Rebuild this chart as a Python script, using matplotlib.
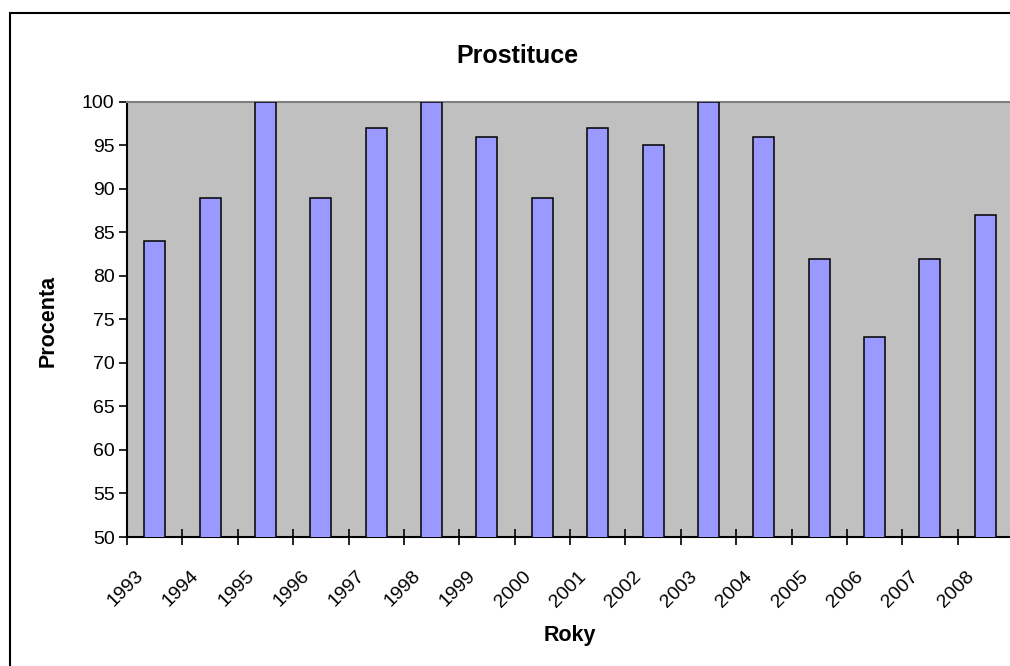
import numpy as np
import matplotlib
matplotlib.use("Agg")
import matplotlib.pyplot as plt
from matplotlib.patches import Rectangle
from matplotlib.transforms import ScaledTranslation

# data
years = ["1993", "1994", "1995", "1996", "1997", "1998", "1999", "2000",
         "2001", "2002", "2003", "2004", "2005", "2006", "2007", "2008"]
values = [84, 89, 100, 89, 97, 100, 96, 89, 97, 95, 100, 96, 82, 73, 82, 87]
yticks = [50, 55, 60, 65, 70, 75, 80, 85, 90, 95, 100]

plt.rcParams['font.family'] = ['Liberation Sans', 'DejaVu Sans']

W, H = 1010, 666
fig = plt.figure(figsize=(W / 100, H / 100), dpi=100)

# chart frame (left + top border visible, the rest is cut off)
frame = Rectangle((10 / W, -0.2), 1.2, 1.2 - 13 / H, transform=fig.transFigure,
                  fill=False, edgecolor='black', linewidth=1.5)
fig.patches.append(frame)

# plot area, runs a bit past the right edge like the original screenshot
ax = fig.add_axes([127 / W, 1 - 537 / H, 886 / W, 435 / H])
ax.set_facecolor('#C0C0C0')

x = np.arange(len(years))
ax.bar(x, values, width=0.38, color='#9999FF', edgecolor='black', linewidth=1.1, zorder=3)

ax.set_xlim(-0.5, len(years) - 0.5)
ax.set_ylim(50, 100)

ax.set_yticks(yticks)
ax.tick_params(axis='y', direction='out', length=6, width=1.2, pad=3, labelsize=14)

# major ticks between categories, labels on minor ticks at category centres
ax.set_xticks(np.arange(-0.5, len(years), 1.0))
ax.set_xticklabels([])
ax.tick_params(axis='x', which='major', direction='inout', length=12, width=1.2)
ax.set_xticks(x, minor=True)
ax.set_xticklabels(years, minor=True, rotation=45, ha='right', va='top', fontsize=14)
ax.tick_params(axis='x', which='minor', length=0, pad=22)
shift = ScaledTranslation(-8 / 100, 0, fig.dpi_scale_trans)
for lbl in ax.xaxis.get_minorticklabels():
    lbl.set_transform(lbl.get_transform() + shift)

for side in ['left', 'bottom']:
    ax.spines[side].set_color('black')
    ax.spines[side].set_linewidth(1.5)
ax.spines['top'].set_color('#808080')
ax.spines['top'].set_linewidth(1.5)
ax.spines['right'].set_visible(False)

fig.text(517 / W, 1 - 56 / H, "Prostituce", ha='center', va='center',
         fontsize=18, fontweight='bold')
fig.text(570 / W, 1 - 635 / H, "Roky", ha='center', va='center',
         fontsize=15.5, fontweight='bold')
fig.text(48 / W, 1 - 321 / H, "Procenta", ha='center', va='center',
         rotation=90, fontsize=15.5, fontweight='bold')

fig.savefig("out.png", dpi=100)
